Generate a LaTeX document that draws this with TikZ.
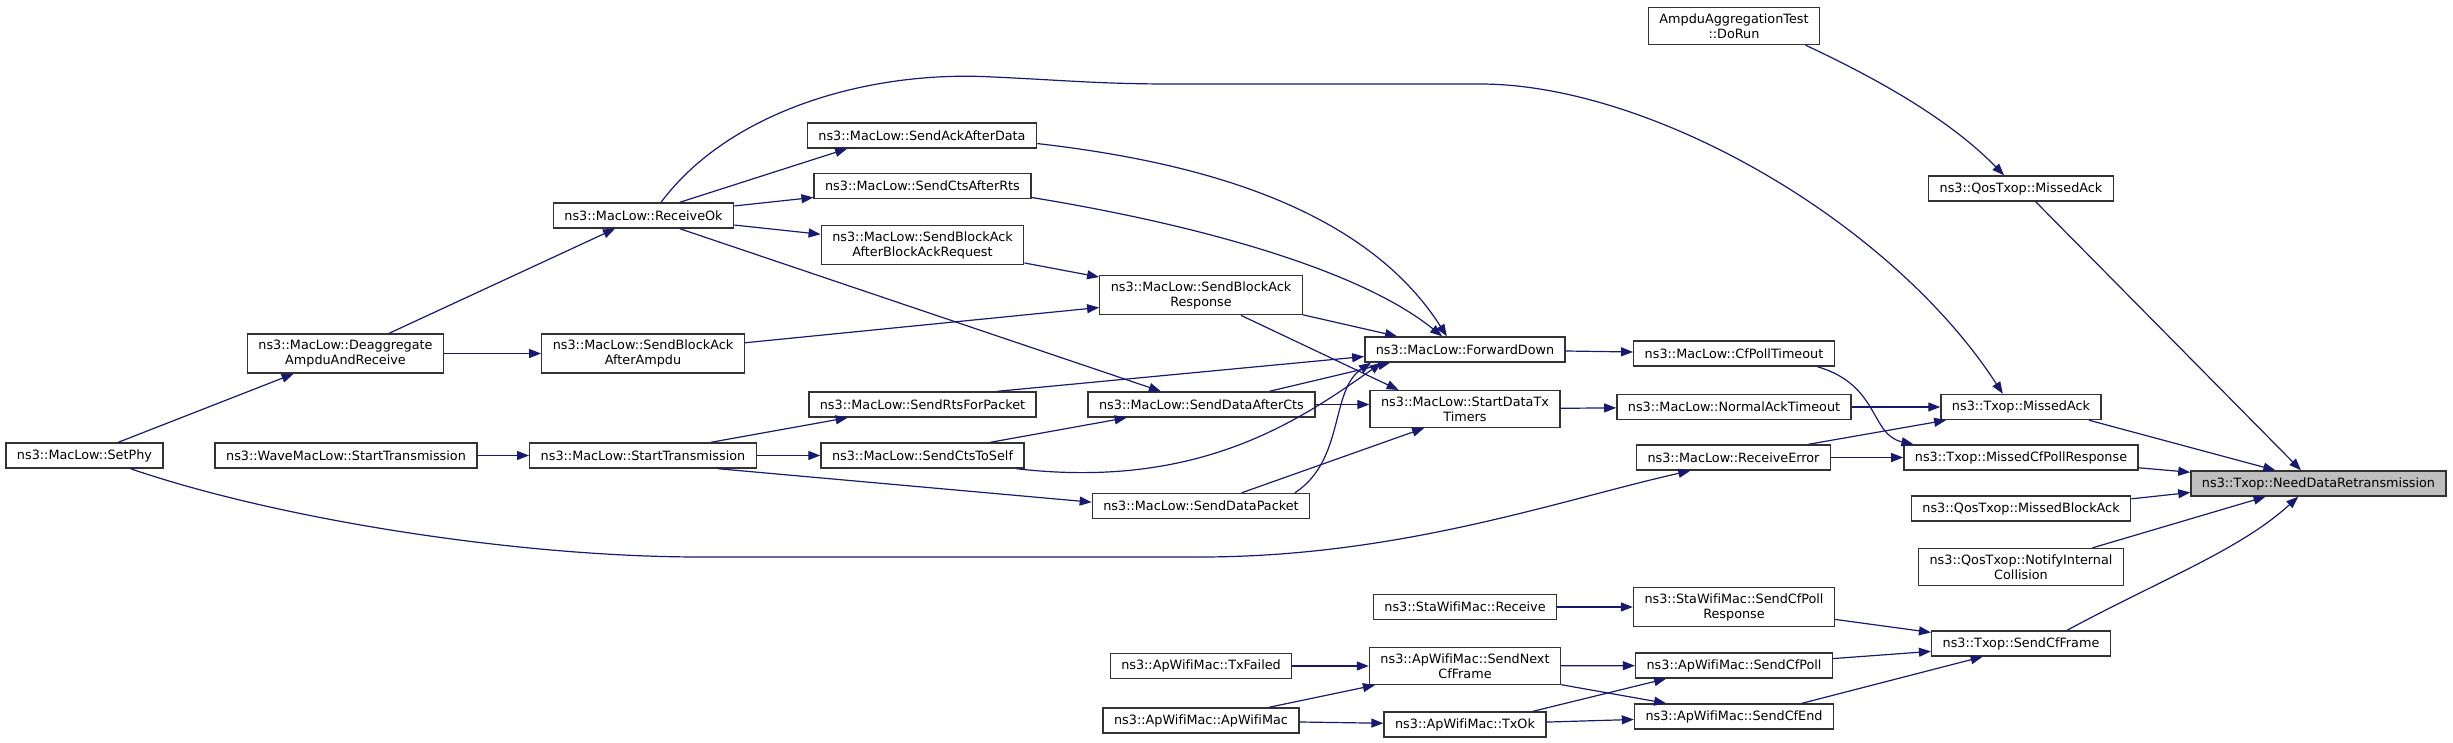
\documentclass[tikz,border=0pt]{standalone}
\usepackage{fontspec}
\setmainfont{DejaVu Sans}[Ligatures=CommonOff]
\usetikzlibrary{arrows.meta}
\definecolor{edgeblue}{HTML}{191970}
\begin{document}
\begin{tikzpicture}[x=0.5pt, y=-0.5pt,
    fn/.style={draw=black!80, line width=0.7pt, fill=white, align=center,
        inner xsep=5.5pt, inner ysep=3pt, minimum height=12.5pt,
        font=\fontsize{6.4}{7.5}\selectfont},
    cur/.style={fn, fill=black!25},
    call/.style={draw=edgeblue, line width=0.6pt, -{Triangle[length=6pt,width=4.5pt]}}]
    \useasboundingbox (0,0) rectangle (2453,743);
    % Left-hand functions
    \node[fn] (setphy) at (84.5,455.5) {ns3::MacLow::SetPhy};
    \node[fn] (deagg) at (345.5,353.5) {ns3::MacLow::Deaggregate\\AmpduAndReceive};
    \node[fn] (wavest) at (346,455.5) {ns3::WaveMacLow::StartTransmission};
    \node[fn] (recvok) at (643.5,215.5) {ns3::MacLow::ReceiveOk};
    \node[fn] (sbaampdu) at (643,353.5) {ns3::MacLow::SendBlockAck\\AfterAmpdu};
    \node[fn] (mlst) at (643,455.5) {ns3::MacLow::StartTransmission};
    \node[fn] (sackdata) at (922,135.5) {ns3::MacLow::SendAckAfterData};
    \node[fn] (sctsrts) at (922.5,186) {ns3::MacLow::SendCtsAfterRts};
    \node[fn] (sbabar) at (922.5,245) {ns3::MacLow::SendBlockAck\\AfterBlockAckRequest};
    \node[fn] (srts) at (922.5,404.5) {ns3::MacLow::SendRtsForPacket};
    \node[fn] (sctsself) at (922.5,455.5) {ns3::MacLow::SendCtsToSelf};
    % Middle functions
    \node[fn] (sbaresp) at (1201,295) {ns3::MacLow::SendBlockAck\\Response};
    \node[fn] (sdacts) at (1201.5,404.5) {ns3::MacLow::SendDataAfterCts};
    \node[fn] (sdpkt) at (1201,506) {ns3::MacLow::SendDataPacket};
    \node[fn] (txfail) at (1201,666) {ns3::ApWifiMac::TxFailed};
    \node[fn] (apwm) at (1201,720.5) {ns3::ApWifiMac::ApWifiMac};
    \node[fn] (fwddown) at (1465,349.5) {ns3::MacLow::ForwardDown};
    \node[fn] (sdtt) at (1465,409) {ns3::MacLow::StartDataTx\\Timers};
    \node[fn] (starecv) at (1465,607) {ns3::StaWifiMac::Receive};
    \node[fn] (sncf) at (1465,666) {ns3::ApWifiMac::SendNext\\CfFrame};
    \node[fn] (txok) at (1465,724.5) {ns3::ApWifiMac::TxOk};
    \node[fn] (dorun) at (1734,26) {AmpduAggregationTest\\::DoRun};
    \node[fn] (cfpt) at (1734,353.5) {ns3::MacLow::CfPollTimeout};
    \node[fn] (nat) at (1734,407) {ns3::MacLow::NormalAckTimeout};
    \node[fn] (recverr) at (1733.5,457.5) {ns3::MacLow::ReceiveError};
    \node[fn] (scpr) at (1734,607) {ns3::StaWifiMac::SendCfPoll\\Response};
    \node[fn] (scpoll) at (1734,665.5) {ns3::ApWifiMac::SendCfPoll};
    \node[fn] (scend) at (1734,716.5) {ns3::ApWifiMac::SendCfEnd};
    % Right-hand functions
    \node[fn] (qma) at (2021,188.5) {ns3::QosTxop::MissedAck};
    \node[fn] (tma) at (2021,407) {ns3::Txop::MissedAck};
    \node[fn] (mcpr) at (2021,457.5) {ns3::Txop::MissedCfPollResponse};
    \node[fn] (mba) at (2021,508.5) {ns3::QosTxop::MissedBlockAck};
    \node[fn] (nic) at (2021,567) {ns3::QosTxop::NotifyInternal\\Collision};
    \node[fn] (scf) at (2021,643.5) {ns3::Txop::SendCfFrame};
    \node[cur] (ndr) at (2318.5,483.5) {ns3::Txop::NeedDataRetransmission};
    % Left-hand Arrows
    \draw[call] (setphy) -- (deagg);
    \draw[call] (setphy.-16) .. controls (280,520) and (520,557) .. (700,557) -- (1200,557)
        .. controls (1400,557) and (1560,500) .. (recverr.197);
    \draw[call] (deagg) -- (recvok);
    \draw[call] (deagg) -- (sbaampdu);
    \draw[call] (wavest) -- (mlst);
    \draw[call] (recvok.20) -- (sackdata.190);
    \draw[call] (recvok.6) -- (sctsrts.186);
    \draw[call] (recvok.-6) -- (sbabar.174);
    \draw[call] (recvok.-20) -- (sdacts.162);
    \draw[call] (recvok.37) .. controls (730,110) and (870,70) .. (993,77)
        .. controls (1060,80) and (1100,84) .. (1170,84) -- (1480,84)
        .. controls (1650,84) and (1890,220) .. (tma.144);
    \draw[call] (sbaampdu.6) -- (sbaresp.187);
    \draw[call] (mlst.11) -- (srts.190);
    \draw[call] (mlst) -- (sctsself);
    \draw[call] (mlst.-10) -- (sdpkt.178);
    % Middle Arrows
    \draw[call] (sackdata.-4) .. controls (1180,160) and (1360,200) .. (fwddown.144);
    \draw[call] (sctsrts.-6) .. controls (1200,225) and (1360,270) .. (fwddown.150);
    \draw[call] (sbabar.-10) -- (sbaresp.170);
    \draw[call] (srts.10) -- (fwddown.184);
    \draw[call] (sctsself.11) -- (sdacts.190);
    \draw[call] (sctsself.-8) .. controls (1200,490) and (1300,420) .. (fwddown.189);
    \draw[call] (sbaresp.-11) -- (fwddown.169);
    \draw[call] (sbaresp.-27) -- (sdtt.164);
    \draw[call] (sdacts.11) -- (fwddown.190);
    \draw[call] (sdacts.east) -- (sdacts.east -| sdtt.west);
    \draw[call] (sdpkt.18) -- (sdtt.205);
    \draw[call] (sdpkt.8) .. controls (1345,460) and (1330,390) .. (fwddown.188);
    \draw[call] (fwddown) -- (cfpt);
    \draw[call] (sdtt) -- (nat);
    \draw[call] (starecv) -- (scpr);
    \draw[call] (txfail) -- (sncf);
    \draw[call] (apwm.11) -- (sncf.192);
    \draw[call] (apwm) -- (txok);
    \draw[call] (sncf) -- (scpoll);
    \draw[call] (sncf.-11) -- (scend.169);
    \draw[call] (txok.11) -- (scpoll.191);
    \draw[call] (txok) -- (scend);
    % Right-hand Arrows
    \draw[call] (cfpt.-9) .. controls (1880,385) and (1870,435) .. (mcpr.173);
    \draw[call] (nat) -- (tma);
    \draw[call] (recverr.10) -- (tma.190);
    \draw[call] (recverr) -- (mcpr);
    \draw[call] (dorun.-15) .. controls (1880,80) and (1950,120) .. (qma.142);
    \draw[call] (scpr.-7) -- (scf.173);
    \draw[call] (scpoll.4) -- (scf.185);
    \draw[call] (scend.11) -- (scf.199);
    \draw[call] (qma.-42) -- (ndr.143);
    \draw[call] (tma.-11) -- (ndr.163);
    \draw[call] (mcpr.-5) -- (ndr.175);
    \draw[call] (mba.5) -- (ndr.184);
    \draw[call] (nic.15) -- (ndr.194);
    \draw[call] (scf.16) .. controls (2160,580) and (2240,550) .. (ndr.213);
\end{tikzpicture}
\end{document}
